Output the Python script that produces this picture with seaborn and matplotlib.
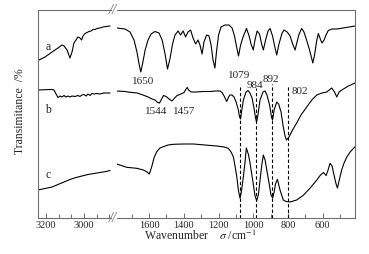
import numpy as np
import pandas as pd
import matplotlib
matplotlib.use("Agg")
import matplotlib.pyplot as plt
import seaborn as sns
from matplotlib import ticker

# wavenumber (cm-1) / transmittance (arbitrary, offset per sample)
# high wavenumber part (left of the break)
a_hi_w = [3242, 3205, 3168, 3137, 3116, 3105, 3089, 3074, 3063, 3053, 3042, 3032, 3021, 3013,
          3005, 2995, 2984, 2974, 2963, 2953, 2942, 2932, 2916, 2900, 2884, 2863]
a_hi_t = [157.5, 161, 166, 170, 173, 172, 168, 160, 166, 175, 178, 181, 180, 178,
          182, 184.5, 185.5, 186.5, 187, 188.5, 188.5, 189.5, 190, 191, 191.5, 192]

b_hi_w = [3242, 3205, 3168, 3158, 3147, 3137, 3126, 3116, 3105, 3095, 3084, 3074, 3063, 3047,
          3032, 3021, 3011, 3000, 2989, 2979, 2968, 2958, 2947, 2932, 2916, 2895, 2874, 2863]
b_hi_t = [128, 128.3, 128.5, 128, 124, 120.5, 122, 121, 122.5, 121, 122, 121, 122, 121.5,
          122.5, 121.5, 123, 123.5, 122, 124, 122.5, 124.5, 124, 124.5, 124, 125, 125, 125]

c_hi_w = [3242, 3205, 3168, 3137, 3105, 3074, 3042, 3011, 2979, 2947, 2916, 2884, 2863]
c_hi_t = [28, 29.5, 31, 33.5, 36, 38.5, 40.5, 42, 43.5, 44.5, 45.5, 46.5, 47.5]

# fingerprint part (right of the break)
a_lo_w = [1785, 1739, 1710, 1687, 1670, 1658, 1648, 1638, 1623, 1606, 1589, 1566, 1543, 1525,
          1508, 1494, 1479, 1465, 1451, 1433, 1419, 1404, 1390, 1376, 1361, 1347, 1332, 1318,
          1307, 1295, 1284, 1269, 1255, 1243, 1232, 1221, 1212, 1200, 1186, 1163, 1140, 1122,
          1108, 1096, 1085, 1073, 1059, 1039, 1024, 1013, 1000, 990, 978, 964, 952, 942, 929,
          915, 903, 889, 877, 865, 852, 834, 823, 805, 788, 771, 759, 748, 736, 721, 708, 693,
          679, 667, 657, 647, 634, 625, 612, 604, 592, 581, 568, 546, 518, 483, 448, 414]
a_lo_t = [190, 189, 186, 178, 166, 154, 146, 154, 168, 178, 184, 186.5, 185, 178,
          164, 149, 160, 174, 183, 187, 183, 187, 181, 186, 188, 180, 174, 178,
          173, 164, 176, 183, 182, 173, 158, 150, 166, 183, 191, 193, 193, 190,
          182, 171, 162, 173, 181, 189.5, 182, 174, 168, 178, 187, 184, 174, 168, 178,
          187, 189.5, 182, 172, 163, 174, 185, 188, 186, 182, 173, 168, 176, 184, 189.5, 186, 178,
          170, 162, 155, 163, 178, 184.5, 178, 175, 178, 183, 187.5, 189, 189, 190, 191, 192]

b_lo_w = [1785, 1739, 1710, 1669, 1635, 1606, 1583, 1566, 1551, 1540, 1528, 1517, 1502, 1485,
          1468, 1453, 1439, 1416, 1399, 1387, 1380, 1373, 1358, 1330, 1289, 1249, 1214, 1191,
          1180, 1168, 1153, 1142, 1134, 1122, 1111, 1099, 1086, 1079, 1073, 1068, 1057, 1042,
          1030, 1019, 1007, 996, 987, 981, 975, 961, 944, 932, 921, 906, 895, 889, 880, 865,
          854, 840, 829, 817, 809, 794, 777, 750, 725, 692, 663, 634, 605, 577, 548, 532, 519,
          506, 490, 452, 414]
b_lo_t = [127, 126.5, 125.7, 125, 123, 121, 119, 118, 115.5, 115, 119, 122.5, 121.5, 119,
          117, 120, 122.5, 124, 125.5, 129, 130.5, 128, 126, 126, 126.5, 126.5, 127, 127,
          125.5, 122, 116.5, 121, 123, 123, 121, 116, 108, 101, 99, 106, 118, 126,
          127.5, 125, 120, 110, 100, 96, 101, 118, 126, 127, 123, 113, 101, 98, 108, 116,
          114, 106, 93, 82, 78, 81, 87, 95, 103, 111, 118, 123, 125, 126, 130, 126, 121,
          126, 128, 132, 135]

c_lo_w = [1786, 1729, 1671, 1633, 1612, 1599, 1585, 1572, 1556, 1537, 1518, 1491, 1460, 1405,
          1345, 1278, 1210, 1168, 1144, 1128, 1115, 1105, 1095, 1085, 1076, 1068, 1057, 1047,
          1040, 1027, 1016, 1000, 990, 980, 970, 961, 951, 942, 932, 919, 906, 898, 888, 880,
          872, 861, 853, 846, 827, 811, 788, 750, 713, 672, 634, 615, 596, 580, 569, 558, 546,
          535, 523, 515, 506, 490, 477, 461, 442, 414]
c_lo_t = [54, 50.7, 49.7, 48, 46, 44, 51.3, 60, 66.3, 70, 71.3, 73, 73.7, 74,
          74, 73, 72, 71, 69.7, 66, 61.3, 52, 41.3, 27, 19.7, 27, 41.3, 57,
          70, 63, 52, 34, 22, 17.3, 24, 38, 53, 63, 58, 44.7, 32, 23, 20, 26,
          34, 38.7, 33, 28, 18, 16.5, 16, 18, 22.5, 30, 38, 42.5, 45.5, 42.5, 48, 54.7, 52,
          43, 34, 30, 37, 48.5, 55, 61, 66, 71.3]

# marked bands of sample b
band_pos = [1079, 984, 892, 802]
band_top = [132, 130, 134, 132]

# peak labels
peak_text = ["1650", "1544", "1457", "1079", "984", "892", "802"]
peak_w = [1633, 1560, 1396, 1082, 990, 898, 734]
peak_t = [136, 106, 106, 142, 133, 138, 126]

sample_names = ["a", "b", "c"]
sample_t = [171, 108, 43]

hi_ticks = [3200, 3000]
lo_ticks = [1600, 1400, 1200, 1000, 800, 600]


sns.set_style("ticks")
plt.rcParams["font.family"] = ["Liberation Serif", "DejaVu Serif"]
plt.rcParams["mathtext.fontset"] = "stix"

frame_col = "#6e6e6e"

fig = plt.figure(figsize=(3.69, 2.54), dpi=100)
ax_l = fig.add_axes([38 / 369, 36 / 254, 73 / 369, 208 / 254])
ax_r = fig.add_axes([117 / 369, 36 / 254, 238 / 369, 208 / 254])


def draw(ax, w, t):
    df = pd.DataFrame({"w": w, "t": t})
    sns.lineplot(data=df, x="w", y="t", ax=ax, color="black", lw=0.8,
                 sort=False, estimator=None)


draw(ax_l, a_hi_w, a_hi_t)
draw(ax_l, b_hi_w, b_hi_t)
draw(ax_l, c_hi_w, c_hi_t)
draw(ax_r, a_lo_w, a_lo_t)
draw(ax_r, b_lo_w, b_lo_t)
draw(ax_r, c_lo_w, c_lo_t)

ax_l.set_xlim(3242, 2858)
ax_r.set_xlim(1785, 414)
for ax in [ax_l, ax_r]:
    ax.set_ylim(0, 208)
    ax.set_yticks([])
    ax.set(xlabel=None, ylabel=None)
    for s in ax.spines.values():
        s.set_color(frame_col)
        s.set_linewidth(0.8)
    ax.tick_params(axis="x", which="both", direction="in", color=frame_col,
                   width=0.7, pad=2, labelsize=7.5)
    ax.tick_params(axis="x", which="major", length=3.5)
    ax.tick_params(axis="x", which="minor", length=3)

ax_l.spines["right"].set_visible(False)
ax_r.spines["left"].set_visible(False)

ax_l.set_xticks(hi_ticks)
ax_l.xaxis.set_minor_locator(ticker.MultipleLocator(200 / 3))
ax_r.set_xticks(lo_ticks)
ax_r.xaxis.set_minor_locator(ticker.MultipleLocator(100))

ax_r.vlines(band_pos, 0, band_top, colors="black", linestyles=(0, (3, 2)), lw=0.8)

for txt, w, t in zip(peak_text, peak_w, peak_t):
    ax_r.text(w, t, txt, ha="center", va="center", fontsize=8)

for name, t in zip(sample_names, sample_t):
    ax_l.text(3188, t, name, ha="center", va="center", fontsize=8.5)

# axis break marks
fig.text(113 / 369, 1 - 10 / 254, "//", ha="center", va="center", fontsize=10.5,
         style="italic", color=frame_col)
fig.text(113 / 369, 1 - 218 / 254, "//", ha="center", va="center", fontsize=10.5,
         style="italic", color=frame_col)

fig.text(20 / 369, 1 - 111 / 254, "Transimitance  /%", rotation=90,
         ha="center", va="center", fontsize=8.5)
fig.text(200 / 369, 1 - 236 / 254, "Wavenumber    $\\sigma$ /cm$^{-1}$",
         ha="center", va="center", fontsize=8.5)

fig.savefig("out.png", dpi=100)
